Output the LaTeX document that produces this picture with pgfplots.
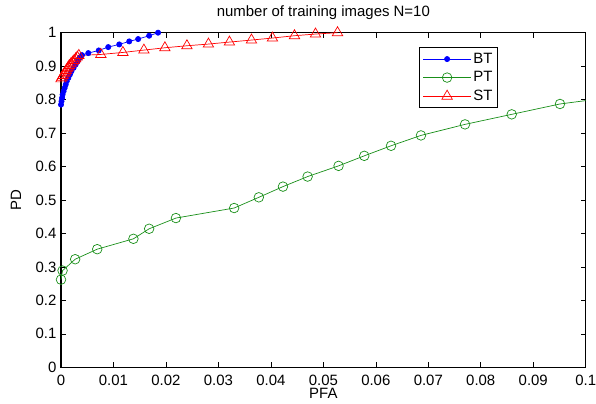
\documentclass[border=0pt]{standalone}
\usepackage{fontspec}
\setmainfont{Liberation Sans}
\usepackage{pgfplots}
\pgfplotsset{compat=1.18}
\definecolor{mgreen}{rgb}{0.1,0.56,0.1}
\newcommand\ff{\fontsize{15}{18}\selectfont}
\begin{document}
\ff
\begin{tikzpicture}
\begin{axis}[name=ax, scale only axis, width=524.7bp, height=334.6bp,
  xmin=0, xmax=0.1, ymin=0, ymax=1, clip=false,
  xtick={0,0.01,0.02,0.03,0.04,0.05,0.06,0.07,0.08,0.09,0.1},
  xticklabels={0,0.01,0.02,0.03,0.04,0.05,0.06,0.07,0.08,0.09,0.1},
  ytick={0,0.1,0.2,0.3,0.4,0.5,0.6,0.7,0.8,0.9,1},
  yticklabels={0,0.1,0.2,0.3,0.4,0.5,0.6,0.7,0.8,0.9,1},
  tick align=inside, major tick length=5bp,
  axis line style={line width=1.2bp},
  every tick/.style={black, line width=0.6bp},
  /pgf/number format/assume math mode=true,
  tick label style={font=\ff},
  xticklabel style={inner sep=1bp, yshift=-6.2bp},
  yticklabel style={xshift=0.5bp},
  title={number of training images N=10},
  title style={at={(axis description cs:0.5,1)}, anchor=base, yshift=10bp, inner sep=0pt, font=\ff},
  xlabel={PFA},
  xlabel style={at={(axis description cs:0.5,0)}, anchor=north, yshift=-20.8bp, inner sep=0pt, font=\ff},
  ylabel={PD},
  ylabel style={at={(axis description cs:-0.0762,0.5)}, anchor=base, inner sep=0pt, font=\ff},
  legend style={at={(axis description cs:0.683,0.956)}, anchor=north west, draw=black, line width=0.8bp, font=\ff, row sep=2bp, inner ysep=3bp},
  legend cell align=left,
  legend image code/.code={\draw[mark repeat=2,mark phase=2] plot coordinates {(0bp,0bp) (24bp,0bp) (48bp,0bp)};},
]
\addplot[color=blue, line width=0.7bp, mark=*, mark size=2.6bp, mark options={solid, fill=blue}] coordinates {
(0,0.785) (0.0001,0.795) (0.0002,0.805) (0.0003,0.815) (0.0005,0.825) (0.0007,0.835)
(0.0009,0.845) (0.0011,0.855) (0.0014,0.865) (0.0017,0.875) (0.0020,0.885) (0.0024,0.895)
(0.0028,0.905) (0.0032,0.915) (0.0036,0.925) (0.0040,0.933) (0.0052,0.939) (0.0072,0.947)
(0.0090,0.957) (0.0111,0.965) (0.0130,0.974) (0.0147,0.981) (0.0168,0.991) (0.0185,1.0)};
\addlegendentry{BT}
\addplot[color=mgreen, line width=0.7bp, mark=o, mark size=4.8bp, mark options={solid}] coordinates {
(0,0.262) (0.0003,0.289) (0.0027,0.323) (0.0069,0.353) (0.0138,0.384) (0.0168,0.414)
(0.0219,0.446) (0.033,0.476) (0.0377,0.508) (0.0423,0.540) (0.047,0.570) (0.0529,0.602)
(0.0578,0.632) (0.0629,0.662) (0.0686,0.693) (0.077,0.726) (0.0859,0.756) (0.0951,0.787)};
\addlegendentry{PT}
\addplot[color=mgreen, line width=0.7bp, forget plot] coordinates {(0.0951,0.787) (0.1,0.797)};
\addplot[color=red, line width=0.7bp, mark=triangle, mark size=6bp, mark options={solid}] coordinates {
(0,0.862) (0.0002,0.867) (0.0004,0.872) (0.0006,0.877) (0.0008,0.882) (0.0010,0.887)
(0.0012,0.892) (0.0014,0.897) (0.0016,0.902) (0.0019,0.907) (0.0022,0.912) (0.0025,0.917)
(0.0028,0.922) (0.0031,0.927) (0.0034,0.932) (0.0076,0.935) (0.0118,0.941) (0.0158,0.948)
(0.0198,0.955) (0.024,0.961) (0.0281,0.966) (0.0321,0.972) (0.0363,0.978) (0.0403,0.984)
(0.0445,0.991) (0.0485,0.996) (0.0527,1.0)};
\addlegendentry{ST}
\end{axis}
\pgfresetboundingbox
\path ([shift={(-61bp,-36bp)}]ax.south west) rectangle ([shift={(10.3bp,32.7bp)}]ax.north east);
\end{tikzpicture}
\end{document}
